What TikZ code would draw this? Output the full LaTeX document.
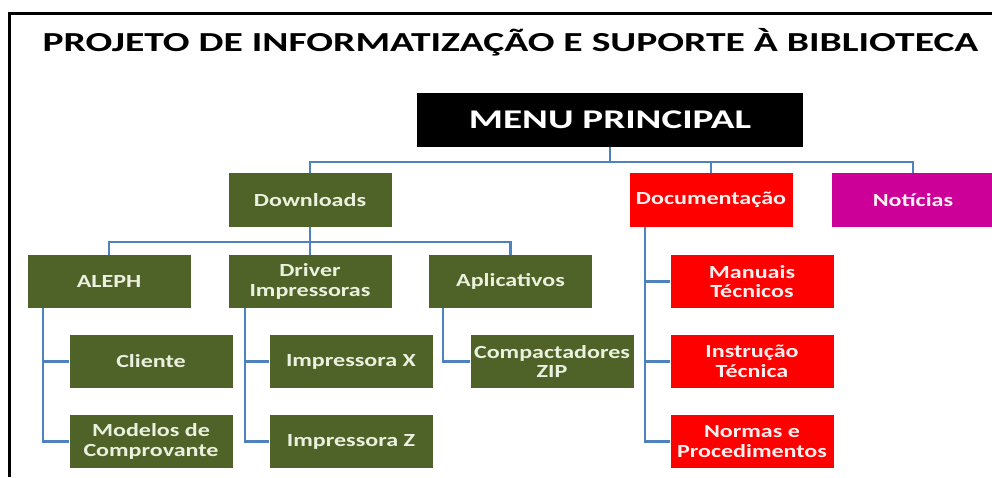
\documentclass[tikz,border=0pt]{standalone}
\usepackage{fontspec}
\setmainfont{Carlito}
\newfontfamily\boxfont{Carlito}[FakeStretch=1.3]
\newfontfamily\menufont{Carlito}[FakeStretch=1.45]
\newfontfamily\titlefont{Carlito}[FakeStretch=1.44]
\definecolor{olive}{HTML}{4F6228}
\definecolor{olivetext}{HTML}{EBF1DE}
\definecolor{redbox}{HTML}{FF0000}
\definecolor{redtext}{HTML}{FFF0F0}
\definecolor{magbox}{HTML}{CC0099}
\definecolor{conncol}{HTML}{4F81BD}
\tikzset{
  box/.style={draw=none, inner sep=0pt, minimum width=163pt, minimum height=53pt, align=center,
    font=\boxfont\bfseries\fontsize{18.5}{19.5}\selectfont},
  greenbox/.style={box, fill=olive, text=olivetext},
  redboxst/.style={box, fill=redbox, text=redtext},
  magboxst/.style={box, fill=magbox, text=redtext},
  conn/.style={draw=conncol, line width=2.2pt},
}
\begin{document}
\begin{tikzpicture}[x=1pt,y=-1pt]
\useasboundingbox (0,0) rectangle (992,477);
\fill[white] (0,0) rectangle (992,477);
% frame
\draw[line width=2.8pt] (9.5,477) -- (9.5,13.5) -- (992,13.5);
% title
\node[anchor=base, font=\titlefont\bfseries\fontsize{27.5}{27.5}\selectfont] (title) at (510.5,51) {PROJETO DE INFORMATIZAÇÃO E SUPORTE À BIBLIOTECA};
% level 0
\node[box, fill=black, text=white, minimum width=386pt, minimum height=54pt,
  font=\menufont\bfseries\fontsize{27}{27}\selectfont] (menu) at (610,120) {MENU PRINCIPAL};
% level 1
\node[greenbox, minimum height=54pt] (down) at (310,200) {Downloads};
\node[redboxst, minimum height=54pt] (doc) at (711,200) {Documentação};
\node[magboxst, minimum height=54pt] (noti) at (913,200) {Notícias};
% level 2
\node[greenbox] (aleph) at (109,281.5) {ALEPH};
\node[greenbox] (driver) at (310,281.5) {Driver\\Impressoras};
\node[greenbox] (aplic) at (510.5,281.5) {Aplicativos};
\node[redboxst] (manuais) at (752,281.5) {Manuais\\Técnicos};
% level 3
\node[greenbox] (cliente) at (151,361.5) {Cliente};
\node[greenbox] (impx) at (351,361.5) {Impressora X};
\node[greenbox] (compact) at (552,361.5) {Compactadores\\ZIP};
\node[redboxst] (instr) at (752,361.5) {Instrução\\Técnica};
% level 4
\node[greenbox] (modelos) at (151,441.5) {Modelos de\\Comprovante};
\node[greenbox] (impz) at (351,441.5) {Impressora Z};
\node[redboxst] (normas) at (752,441.5) {Normas e\\Procedimentos};
% connectors level 0 -> 1
\coordinate (busA) at (610,162);
\draw[conn] (menu.south) -- (menu.south |- busA) -| (down.north);
\draw[conn] (menu.south |- busA) -| (doc.north);
\draw[conn] (menu.south |- busA) -| (noti.north);
% Downloads -> level 2
\coordinate (busB) at (310,242);
\draw[conn] (down.south) -- (down.south |- busB) -| (aleph.north);
\draw[conn] (down.south |- busB) -| (driver.north);
\draw[conn] (down.south |- busB) -| (aplic.north);
% ALEPH children
\draw[conn] ([xshift=-66pt]aleph.south) |- (cliente.west);
\draw[conn] ([xshift=-66pt]aleph.south) |- (modelos.west);
% Driver children
\draw[conn] ([xshift=-65pt]driver.south) |- (impx.west);
\draw[conn] ([xshift=-65pt]driver.south) |- (impz.west);
% Aplicativos child
\draw[conn] ([xshift=-67.5pt]aplic.south) |- (compact.west);
% Documentacao children
\draw[conn] ([xshift=-66pt]doc.south) |- (manuais.west);
\draw[conn] ([xshift=-66pt]doc.south) |- (instr.west);
\draw[conn] ([xshift=-66pt]doc.south) |- (normas.west);
\end{tikzpicture}
\end{document}
